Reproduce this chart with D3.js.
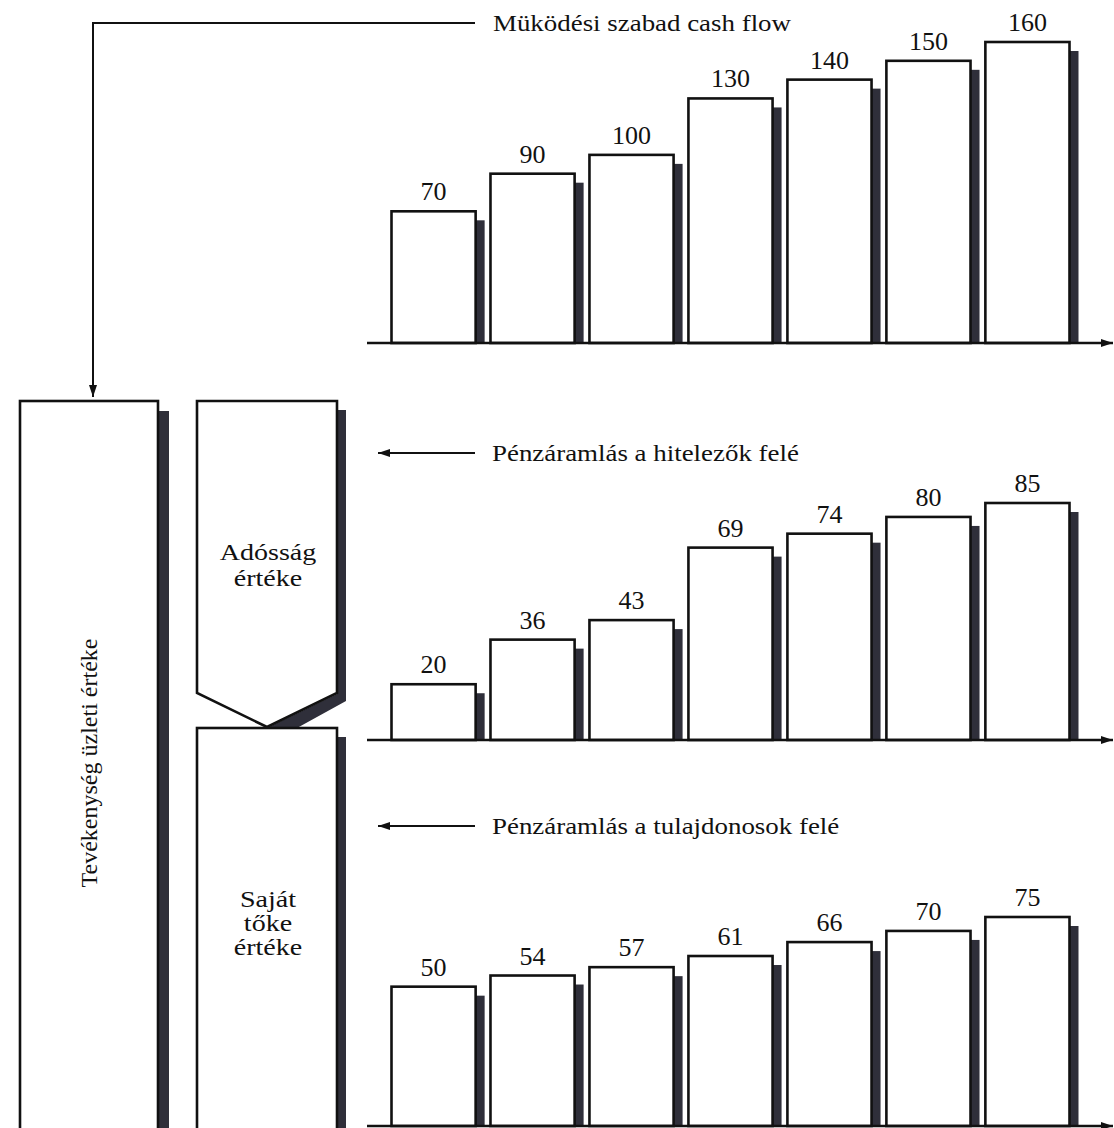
<!DOCTYPE html>
<html>
<head>
<meta charset="utf-8">
<script src="https://cdn.jsdelivr.net/npm/d3@7"></script>
<style>
  html, body { margin: 0; padding: 0; background: #fff; }
  svg { display: block; }
  text { font-family: "Liberation Serif", "Times New Roman", serif; fill: #111; }
</style>
</head>
<body>
<svg id="chart" width="1114" height="1128" font-family="Liberation Serif, serif"></svg>
<script>
// ---- data ----
const periods = ["1", "2", "3", "4", "5", "6", "7"];
const freeCashFlow = [70, 90, 100, 130, 140, 150, 160];
const debtFlow = [20, 36, 43, 69, 74, 80, 85];
const equityFlow = [50, 54, 57, 61, 66, 70, 75];
const titles = {
  fcf: "Müködési szabad cash flow",
  debt: "Pénzáramlás a hitelezők felé",
  equity: "Pénzáramlás a tulajdonosok felé"
};
const enterpriseLabel = "Tevékenység üzleti értéke";
const debtLabel = ["Adósság", "értéke"];
const equityLabel = ["Saját", "tőke", "értéke"];

// ---- drawing ----
const svg = d3.select("#chart");
const INK = "#111";
const SHADOW = "#2f2f3a";
const STRETCH = 1.17;

const defs = svg.append("defs");
defs.append("marker").attr("id", "arr").attr("viewBox", "0 0 12 8")
  .attr("refX", 12).attr("refY", 4).attr("markerWidth", 12).attr("markerHeight", 8)
  .attr("markerUnits", "userSpaceOnUse").attr("orient", "auto")
  .append("path").attr("d", "M0,0 L12,4 L0,8 Z").attr("fill", INK);

const x = d3.scaleBand().domain(periods).range([391.5, 1069.5]).paddingInner(0.15).paddingOuter(0);

function panel(values, y0, y1, maxV) {
  const y = d3.scaleLinear().domain([0, maxV]).range([y0, y1]);
  const g = svg.append("g");
  const data = periods.map((p, i) => ({ p, v: values[i] }));
  // shadows
  g.selectAll("rect.sh").data(data).join("rect").attr("class", "sh")
    .attr("x", d => x(d.p) + x.bandwidth())
    .attr("y", d => y(d.v) + 9)
    .attr("width", 9)
    .attr("height", d => y(0) - y(d.v) - 9)
    .attr("fill", SHADOW);
  // bars
  g.selectAll("rect.bar").data(data).join("rect").attr("class", "bar")
    .attr("x", d => x(d.p))
    .attr("y", d => y(d.v))
    .attr("width", x.bandwidth())
    .attr("height", d => y(0) - y(d.v))
    .attr("fill", "#fff").attr("stroke", INK).attr("stroke-width", 2.6);
  // labels
  g.selectAll("text.val").data(data).join("text").attr("class", "val")
    .attr("x", d => x(d.p) + x.bandwidth() / 2)
    .attr("y", d => y(d.v) - 11)
    .attr("text-anchor", "middle")
    .attr("font-size", 26)
    .text(d => d.v);
  // axis line with arrow
  g.append("line").attr("x1", 367).attr("x2", 1113).attr("y1", y(0)).attr("y2", y(0))
    .attr("stroke", INK).attr("stroke-width", 2.4).attr("marker-end", "url(#arr)");
  return y;
}

panel(freeCashFlow, 343, 42, 160);
panel(debtFlow, 740, 503, 85);
panel(equityFlow, 1126, 917, 75);

// stretched text helper
function stext(str, tx, ty, size, anchor) {
  svg.append("g").attr("transform", `translate(${tx},${ty}) scale(${STRETCH},1)`)
    .append("text").attr("x", 0).attr("y", 0)
    .attr("text-anchor", anchor || "start").attr("font-size", size).text(str);
}

// top connector: title -> left box
svg.append("path").attr("d", "M475,23 L93,23 L93,397")
  .attr("fill", "none").attr("stroke", INK).attr("stroke-width", 2).attr("marker-end", "url(#arr)");
stext(titles.fcf, 493, 31, 23);

// left-pointing arrows
svg.append("line").attr("x1", 475).attr("x2", 378).attr("y1", 453).attr("y2", 453)
  .attr("stroke", INK).attr("stroke-width", 2).attr("marker-end", "url(#arr)");
stext(titles.debt, 492, 461, 23);
svg.append("line").attr("x1", 475).attr("x2", 378).attr("y1", 826).attr("y2", 826)
  .attr("stroke", INK).attr("stroke-width", 2).attr("marker-end", "url(#arr)");
stext(titles.equity, 492, 834, 23);

// left tall box (enterprise value)
svg.append("rect").attr("x", 158).attr("y", 411).attr("width", 11).attr("height", 740).attr("fill", SHADOW);
svg.append("rect").attr("x", 20).attr("y", 401).attr("width", 138).attr("height", 760)
  .attr("fill", "#fff").attr("stroke", INK).attr("stroke-width", 2.6);
svg.append("text").attr("transform", "translate(97,763) rotate(-90)")
  .attr("text-anchor", "middle").attr("font-size", 24).text(enterpriseLabel);

// debt value box (chevron)
svg.append("path").attr("d", "M337,410 L346,410 L346,701 L297,728 L267,728 L337,694 Z").attr("fill", SHADOW);
svg.append("path").attr("d", "M197,401 L337,401 L337,693 L267,727 L197,693 Z")
  .attr("fill", "#fff").attr("stroke", INK).attr("stroke-width", 2.6).attr("stroke-linejoin", "miter");
debtLabel.forEach((t, i) => stext(t, 268, 560 + i * 26, 24, "middle"));

// equity value box
svg.append("rect").attr("x", 337).attr("y", 737).attr("width", 9).attr("height", 420).attr("fill", SHADOW);
svg.append("rect").attr("x", 197).attr("y", 728).attr("width", 140).attr("height", 430)
  .attr("fill", "#fff").attr("stroke", INK).attr("stroke-width", 2.6);
equityLabel.forEach((t, i) => stext(t, 268, 907 + i * 24, 24, "middle"));
</script>
</body>
</html>
